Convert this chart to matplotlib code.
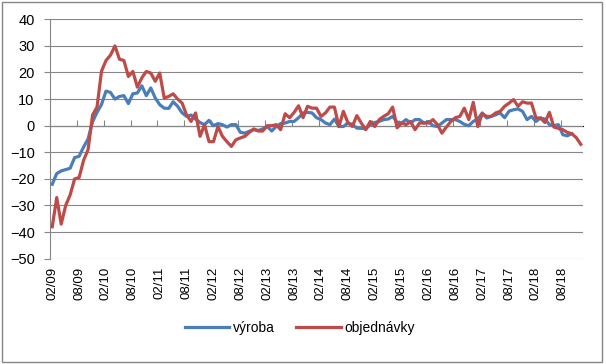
import numpy as np
import matplotlib
matplotlib.use("Agg")
import matplotlib.pyplot as plt
from matplotlib.patches import Rectangle

plt.rcParams['font.family'] = ['Liberation Sans', 'DejaVu Sans']

# ----- data (monthly, 02/09 .. 12/18) -----
tick_labels = ['02/09', '08/09', '02/10', '08/10', '02/11', '08/11', '02/12', '08/12',
               '02/13', '08/13', '02/14', '08/14', '02/15', '08/15', '02/16', '08/16',
               '02/17', '08/17', '02/18', '08/18']

vyroba = [-22, -18, -17, -16.5, -16, -12, -11.5, -8, -5, 1.5,
          5, 8, 13, 12.5, 10, 11, 11.3, 8.3, 12, 12.3,
          15, 11.3, 14.2, 10.4, 7.9, 6.6, 6.5, 9, 7.3, 4.8,
          3.5, 4, 2.5, 1.2, 0.4, 2, 0, 0.8, 0.4, -0.5,
          0.4, 0.4, -2.5, -2.8, -2.1, -1.5, -1.8, -1.2, -0.3, -2,
          -0.3, 0.8, 1, 1.6, 1.6, 3, 4.8, 5, 4.8, 3,
          2.3, 1, 0.4, 2.5, -0.3, -0.3, 1, 0.5, -0.9, -1,
          -1.2, 0.4, 1.2, 1.6, 2.3, 2.5, 3.5, 1.3, 1, 2.3,
          1, 2.3, 2.3, 1, 1.6, 0, -0.3, 1, 2.3, 2.3,
          2.3, 1.6, 0.5, 0, 1.6, 2.5, 4.8, 2.9, 3.5, 4.1,
          4.8, 3, 5.5, 6, 6.3, 5.4, 2.3, 3.5, 1.6, 2.9,
          2.5, 0.4, 0, 0.4, -3.4, -3.8, -3, np.nan, np.nan]

objednavky = [-38, -27, -37, -30, -26, -20, -19.5, -13, -9, 4,
              7, 20.5, 24.5, 26.5, 30, 25, 24.5, 18.5, 20.4, 14.5,
              18, 20.4, 19.8, 16.7, 19.8, 10.4, 11, 12, 10, 8.5,
              4, 1.6, 4.8, -4, 0.4, -6, -6, -0.3, -4, -6,
              -7.8, -5.3, -4.6, -4, -2.5, -1.2, -2, -2, 0, 0,
              0.4, -1.5, 4.5, 3, 5, 7.5, 3, 7.3, 6.6, 6.6,
              3.5, 4.8, 7, 7, -0.3, 5.4, 1.2, -0.3, 3.8, 1,
              -1.5, 1.6, -0.3, 2.3, 3.5, 4.5, 7, -0.8, 1, 0.4,
              1.6, -1.5, 1, 1, 1, 2.3, 0.4, -2.8, -0.5, 1.6,
              3, 3.5, 6.6, 2.3, 8.8, -0.3, 4.5, 3.5, 3.5, 4.8,
              5.4, 7.3, 8.5, 9.8, 7.3, 9, 8.5, 8.5, 2.9, 2.9,
              1.2, 5, -0.5, -1, -1.5, -2.5, -3, -4.5, -7]

x = np.arange(len(objednavky))
grid_col = '#868686'

fig = plt.figure(figsize=(6.06, 3.64), dpi=100)
ax = fig.add_axes([50 / 606, 1 - 258.7 / 364, 533 / 606, 239.4 / 364])

ax.plot(x, vyroba, color='#4A7EBB', lw=2.3, label='výroba', zorder=3)
ax.plot(x, objednavky, color='#BE4B48', lw=2.3, label='objednávky', zorder=3)

ax.set_xlim(-0.5, len(x) - 0.5)
ax.set_ylim(-50, 40)
ax.set_yticks(np.arange(-50, 41, 10))
ax.yaxis.grid(True, color=grid_col, lw=0.8)
ax.set_axisbelow(True)
ax.tick_params(axis='y', length=4, color=grid_col, labelsize=10.5, pad=7)

# category labels every 6 months at the bottom, no tick marks there
ax.set_xticks(np.arange(0, len(x), 6))
ax.set_xticklabels(tick_labels, rotation=90, fontsize=9.5)
ax.tick_params(axis='x', length=0, pad=6)

for s in ['top', 'right', 'bottom']:
    ax.spines[s].set_visible(False)
ax.spines['left'].set_color(grid_col)

# horizontal axis crossing at 0 with tick marks between categories
zero = ax.secondary_xaxis(50 / 90)
zero.set_xticks(np.arange(-0.5, len(x), 6))
zero.set_xticklabels([])
zero.tick_params(length=4, color=grid_col, direction='out')
zero.spines['bottom'].set_color(grid_col)

ax.legend(loc='center', bbox_to_anchor=(250 / 533, -0.29), ncol=2, frameon=False,
          fontsize=10, handlelength=3.2, columnspacing=1.5, handletextpad=0.3)

fig.patches.append(Rectangle((0.004, 0.006), 0.99, 0.988, transform=fig.transFigure,
                             fill=False, edgecolor=grid_col, lw=1))

fig.savefig('out.png', dpi=100)
